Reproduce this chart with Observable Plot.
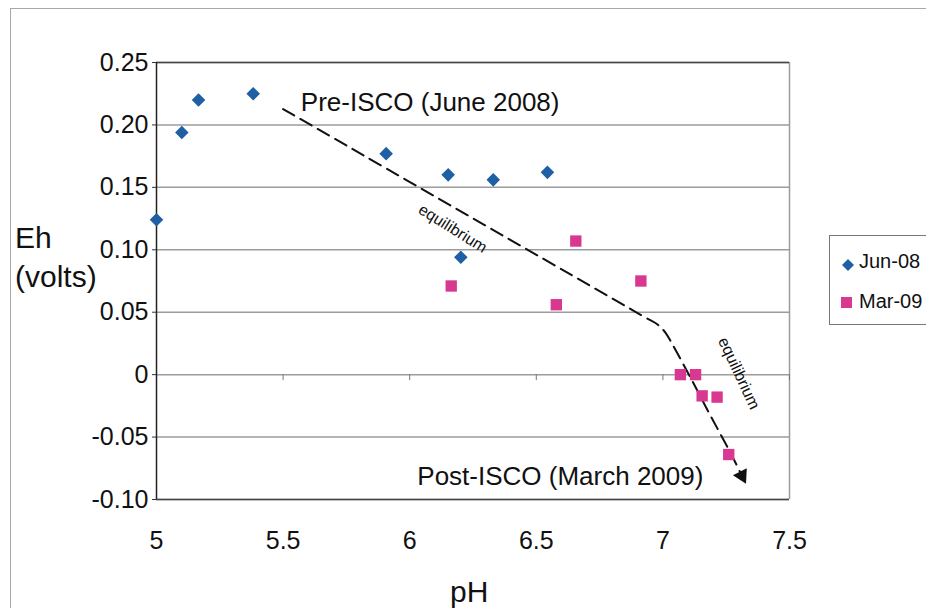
<!DOCTYPE html>
<html>
<head>
<meta charset="utf-8">
<script src="https://cdn.jsdelivr.net/npm/d3@7"></script>
<script src="https://cdn.jsdelivr.net/npm/@observablehq/plot@0.6"></script>
<style>
  body { margin: 0; background: #fff; font-family: "Liberation Sans", Arial, sans-serif; }
  #wrap { position: relative; width: 926px; height: 608px; overflow: hidden; background: #fff; }
  #chart { position: absolute; left: 0; top: 0; }
  .outer { position: absolute; left: 10px; top: 8px; width: 1000px; height: 700px;
           border-top: 1.5px solid #a8a8a8; border-left: 1.5px solid #a8a8a8; }
  .lbl { position: absolute; font-size: 30px; line-height: 30px; color: #111; white-space: nowrap; }
  .legend { position: absolute; left: 829px; top: 235px; width: 130px; height: 88px;
            border: 1px solid #777; background: #fff; }
  .legend .item { position: absolute; left: 29px; font-size: 20px; line-height: 20px; color: #111; white-space: nowrap; }
  .legend svg { position: absolute; }
</style>
</head>
<body>
<div id="wrap">
  <div class="outer"></div>
  <div id="chart"></div>
  <div class="lbl" style="left:15px;top:223px;">Eh</div>
  <div class="lbl" style="left:15px;top:262px;">(volts)</div>
  <div class="lbl" style="left:450px;top:577px;">pH</div>
  <div class="legend">
    <svg width="14" height="14" style="left:11px;top:22px;"><path d="M7,1L13,7L7,13L1,7Z" fill="#1f5fa3"/></svg>
    <div class="item" style="top:15px;">Jun-08</div>
    <svg width="12" height="12" style="left:11px;top:61px;"><rect x="0" y="0" width="11" height="11" fill="#d8388f"/></svg>
    <div class="item" style="top:55px;">Mar-09</div>
  </div>
</div>
<script>
// ---- data ----
const junPH = [5.00, 5.10, 5.166, 5.382, 5.907, 6.152, 6.202, 6.330, 6.544];
const junEh = [0.124, 0.194, 0.220, 0.225, 0.177, 0.160, 0.094, 0.156, 0.162];

const marPH = [6.164, 6.579, 6.656, 6.913, 7.069, 7.129, 7.155, 7.214, 7.260];
const marEh = [0.071, 0.056, 0.107, 0.075, 0.000, 0.000, -0.017, -0.018, -0.064];

// equilibrium path (dashed arrow)
const eqPH = [5.500, 6.931, 6.979, 7.010, 7.038, 7.109, 7.188, 7.267, 7.312];
const eqEh = [0.2127, 0.0457, 0.0401, 0.0337, 0.0241, -0.0024, -0.0329, -0.0626, -0.0810];

const xTicks = [5, 5.5, 6, 6.5, 7, 7.5];
const xLabels = ["5", "5.5", "6", "6.5", "7", "7.5"];
const yTicks = [0.25, 0.20, 0.15, 0.10, 0.05, 0, -0.05, -0.10];
const yLabels = ["0.25", "0.20", "0.15", "0.10", "0.05", "0", "-0.05", "-0.10"];

const annoText = ["Pre-ISCO (June 2008)", "Post-ISCO (March 2009)"];
const annoPH = [5.57, 6.03];
const annoEh = [0.218, -0.082];

const eqLabelText = ["equilibrium", "equilibrium"];
const eqLabelPH = [6.17, 7.30];
const eqLabelEh = [0.117, 0.001];
const eqLabelAngle = [32, 65];

// ---- build tables ----
const jun = junPH.map((p, i) => ({pH: p, eh: junEh[i]}));
const mar = marPH.map((p, i) => ({pH: p, eh: marEh[i]}));
const eq = eqPH.map((p, i) => ({pH: p, eh: eqEh[i]}));
const anno = annoText.map((t, i) => ({t, pH: annoPH[i], eh: annoEh[i]}));
const eqLabels = eqLabelText.map((t, i) => ({t, pH: eqLabelPH[i], eh: eqLabelEh[i], a: eqLabelAngle[i]}));
const xMap = new Map(xTicks.map((d, i) => [d, xLabels[i]]));
const yMap = new Map(yTicks.map((d, i) => [d, yLabels[i]]));

const font = '"Liberation Sans", Arial, sans-serif';

const chart = Plot.plot({
  width: 926,
  height: 608,
  marginLeft: 156,
  marginRight: 137,
  marginTop: 62,
  marginBottom: 109,
  style: {fontFamily: font, color: "#111", background: "transparent", overflow: "visible"},
  x: {domain: [5, 7.5]},
  y: {domain: [-0.1, 0.25]},
  marks: [
    Plot.ruleY(yTicks, {stroke: "#9c9c9c", strokeWidth: 1.5}),
    Plot.ruleX([7.5], {stroke: "#9c9c9c", strokeWidth: 1.5}),
    Plot.ruleY([0.25, -0.1], {stroke: "#444", strokeWidth: 1.5}),
    Plot.ruleX([5], {stroke: "#222", strokeWidth: 1.5}),
    Plot.ruleX(xTicks.slice(1), {y1: 0, y2: 0, insetBottom: -6, stroke: "#777", strokeWidth: 1}),
    Plot.axisY({ticks: yTicks, tickFormat: d => yMap.get(d), tickSize: 4, tickPadding: 4,
                fontSize: 25, label: null, stroke: "#333"}),
    Plot.axisX({ticks: xTicks, tickFormat: d => xMap.get(d), tickSize: 0, tickPadding: 32,
                fontSize: 25, label: null}),
    Plot.line(eq, {x: "pH", y: "eh", stroke: "#111", strokeWidth: 2, strokeDasharray: "13,7", curve: "catmull-rom"}),
    Plot.dot(eq.slice(-1), {x: "pH", y: "eh", symbol: "triangle", r: 5.8, fill: "#111", stroke: "none", rotate: 153}),
    Plot.dot(jun, {x: "pH", y: "eh", symbol: "diamond2", r: 6.1, fill: "#1f5fa3", stroke: "none"}),
    Plot.dot(mar, {x: "pH", y: "eh", symbol: "square", r: 6.4, fill: "#d8388f", stroke: "none"}),
    Plot.text(anno, {x: "pH", y: "eh", text: "t", textAnchor: "start", fontSize: 26, fill: "#111"}),
    Plot.text(eqLabels, {x: "pH", y: "eh", text: "t", rotate: "a", fontSize: 16, fill: "#111"})
  ]
});
document.getElementById("chart").appendChild(chart);
</script>
</body>
</html>
